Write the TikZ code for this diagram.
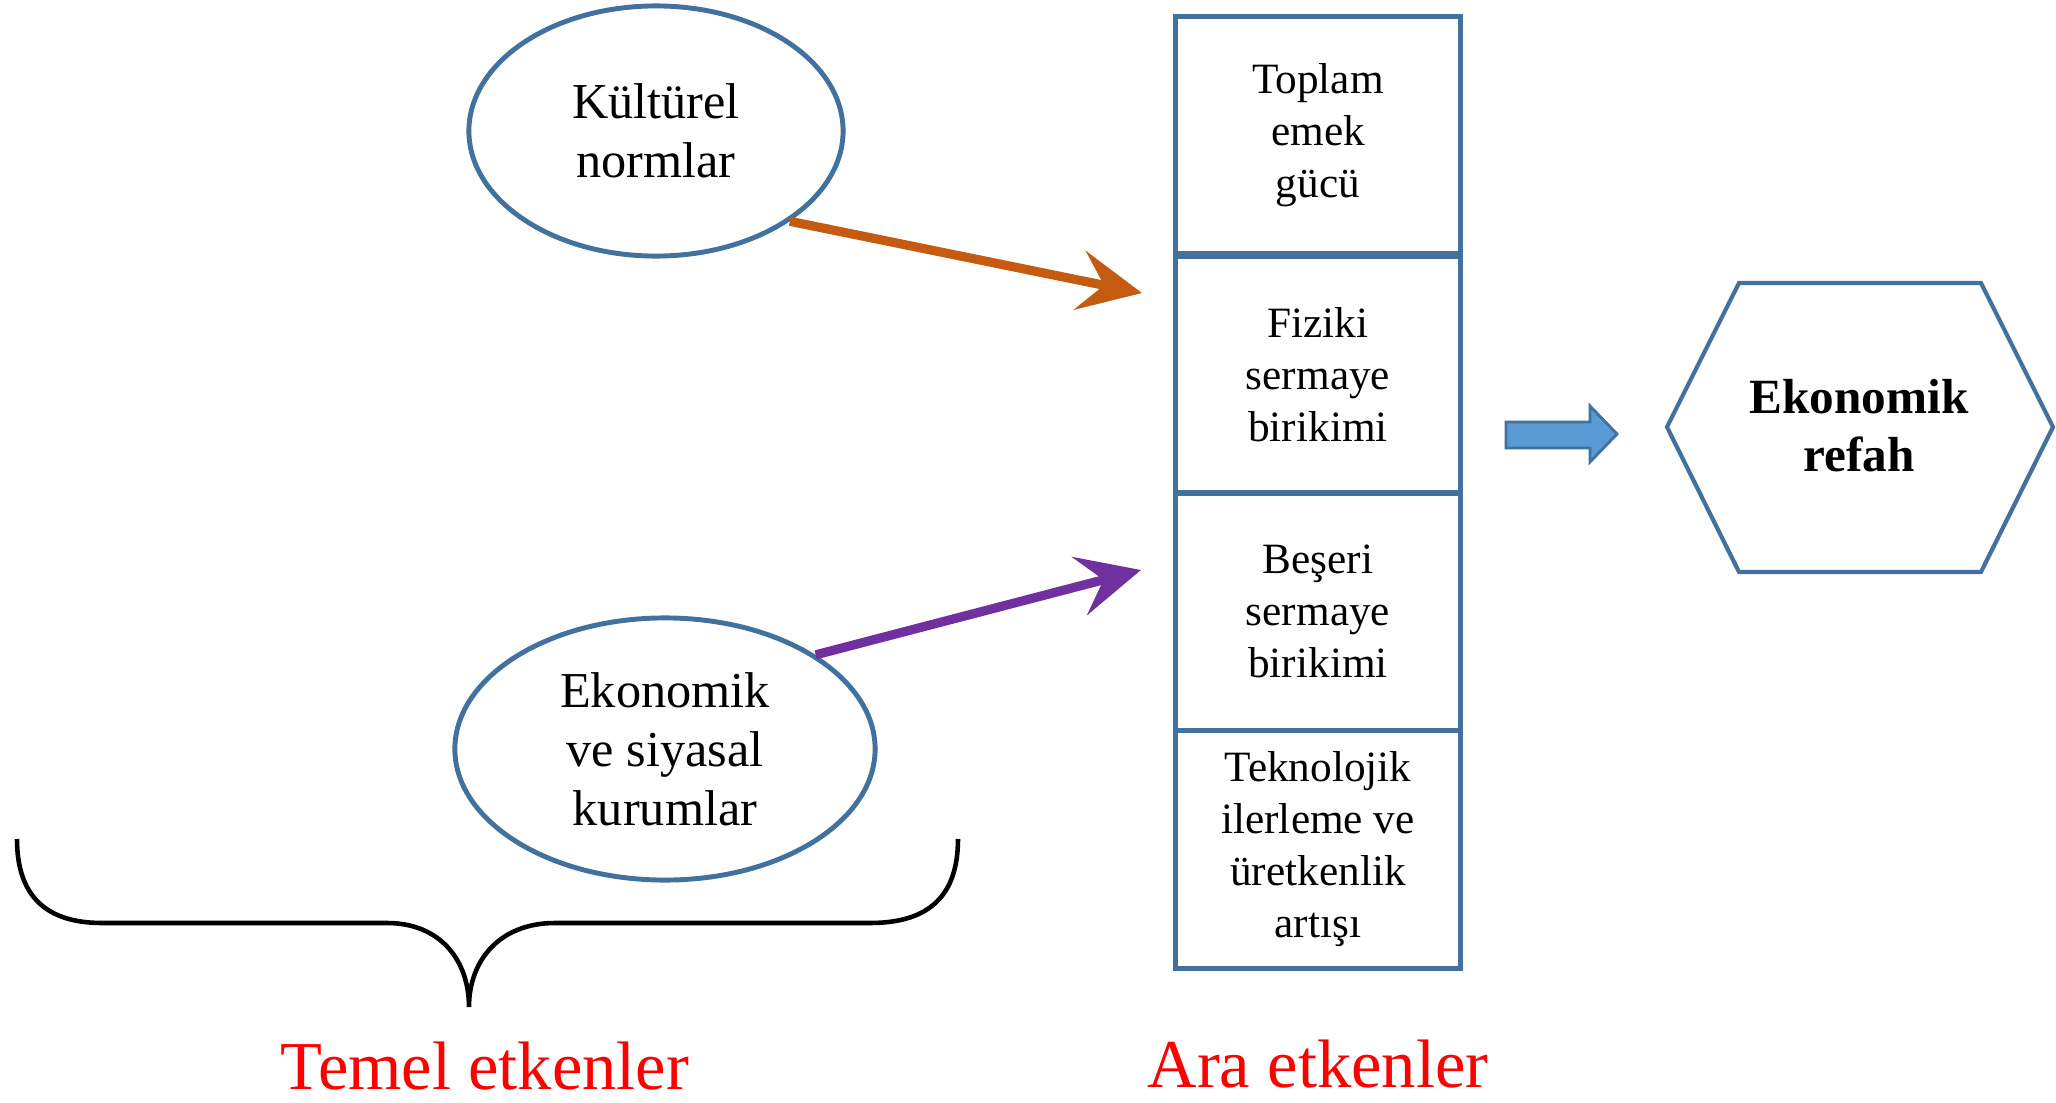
\documentclass[tikz,border=0pt]{standalone}
\usepackage{fontspec}
\setmainfont{Liberation Serif}
\usetikzlibrary{shapes.geometric,arrows.meta}

\definecolor{kenar}{RGB}{65,113,156}
\definecolor{turuncu}{RGB}{197,90,17}
\definecolor{mor}{RGB}{112,48,160}
\definecolor{okmavi}{RGB}{91,155,213}

\begin{document}
\begin{tikzpicture}[x=0.01cm,y=-0.01cm,
    elips/.style={shape=ellipse,draw=kenar,line width=1.4pt,inner sep=0pt,align=center,font=\fontsize{14.3}{16.8}\selectfont},
    kutu/.style={shape=rectangle,draw=kenar,line width=1.4pt,minimum width=2.85cm,minimum height=2.37cm,inner sep=0pt,align=center,font=\fontsize{12.3}{14.8}\selectfont},
    ok/.style={line width=2.6pt,-{Stealth[length=18pt,width=17pt,inset=7pt]}},
    etiket/.style={text=red,inner sep=0pt,font=\fontsize{19.5}{23}\selectfont}]
    \fill[white] (0,0) rectangle (2056,1103);
    \useasboundingbox (0,0) rectangle (2056,1103);

    \node[elips,minimum width=3.74cm,minimum height=2.5cm] (kultur) at (656,131) {K\"ult\"urel\\normlar};
    \node[elips,minimum width=4.2cm,minimum height=2.62cm] (kurum) at (665,749) {Ekonomik\\ve siyasal\\kurumlar};

    \node[kutu] (emek) at (1318,135) {Toplam\\emek\\g\"uc\"u};
    \node[kutu] (fiziki) at (1318,375) {Fiziki\\sermaye\\birikimi};
    \node[kutu] (beseri) at (1318,611.5) {Be\c{s}eri\\sermaye\\birikimi};
    \node[kutu] (tekno) at (1318,849.5) {Teknolojik\\ilerleme ve\\\"uretkenlik\\art\i\c{s}\i};

    \coordinate (turuncuuc) at (1142,293);
    \coordinate (moruc) at (1141,570);
    \draw[ok,turuncu] (kultur.-34) -- (turuncuuc);
    \draw[ok,mor] (kurum.32) -- (moruc);

    % blok ok
    \filldraw[fill=okmavi,draw=kenar,line width=0.8pt] (1506,422) -- (1590,422) -- (1590,406) -- (1617,434) -- (1590,462) -- (1590,448) -- (1506,448) -- cycle;

    \draw[kenar,line width=1.2pt] (1667,427) -- (1739,283) -- (1981,283) -- (2053,427) -- (1981,572) -- (1739,572) -- cycle;
    \node[align=center,font=\fontsize{14}{16.5}\selectfont\bfseries] (refah) at (1859,426) {Ekonomik\\refah};

    \draw[black,line width=1.3pt] (17,839) .. controls (17,895) and (45,923) .. (102,923) -- (387,923)
        .. controls (440,923) and (469,960) .. (469,1007)
        .. controls (469,960) and (500,923) .. (555,923) -- (870,923)
        .. controls (930,923) and (958,895) .. (958,839);

    \node[etiket] (temel) at (485,1066) {Temel etkenler};
    \node[etiket] (ara) at (1318,1064) {Ara etkenler};
\end{tikzpicture}
\end{document}
